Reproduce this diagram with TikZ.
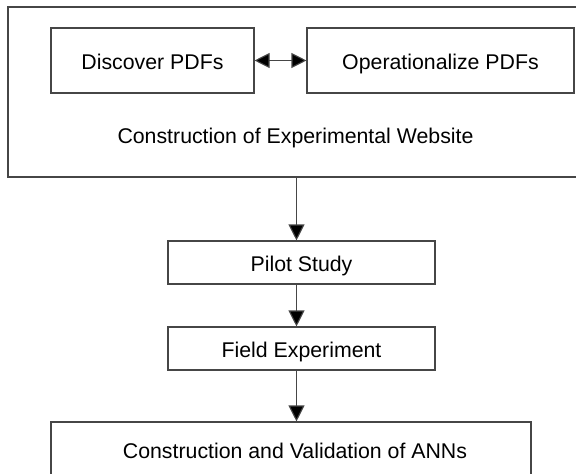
\documentclass[tikz,border=0pt]{standalone}
\usepackage{fontspec}
\setmainfont{Liberation Sans}
\usetikzlibrary{arrows.meta}
\definecolor{ln}{RGB}{70,70,70}
\tikzset{
  txt/.style={font=\fontsize{21.3}{25}\selectfont, text=black, text height=18.5pt, text depth=0pt},
  box/.style={draw=ln, line width=1.1pt, inner sep=0pt, txt},
  arr/.style={draw=ln, line width=1.1pt, -{Triangle[length=16pt,width=16pt,fill=black]}},
  dbl/.style={draw=ln, line width=1.1pt, {Triangle[length=15pt,width=15pt,fill=black]}-{Triangle[length=15pt,width=15pt,fill=black]}},
  lbl/.style={txt, inner sep=0pt}
}
\begin{document}
\begin{tikzpicture}[x=1pt,y=-1pt]
\useasboundingbox (0,0) rectangle (576,474);
\fill[white] (0,0) rectangle (576,474);
\node[box, minimum width=574pt, minimum height=170pt] (outer) at (295,92) {};
\node[lbl] (web) at (295.5,134) {Construction of Experimental Website};
\node[box, minimum width=203pt, minimum height=65pt] (disc) at (152.5,60.5) {Discover PDFs};
\node[box, minimum width=267pt, minimum height=65pt] (oper) at (440.5,60.5) {Operationalize PDFs};
\node[box, minimum width=267pt, minimum height=43pt] (pilot) at (301.5,262.5) {Pilot Study};
\node[box, minimum width=267pt, minimum height=43pt] (field) at (301.5,348.5) {Field Experiment};
\node[box, minimum width=480pt, minimum height=70pt] (ann) at (291,457) {};
\node[lbl] (anntext) at (295,449.5) {Construction and Validation of ANNs};
\coordinate (ax) at (296.5,0);
\draw[dbl] (disc.east) -- (oper.west);
\draw[arr] (ax |- outer.south) -- (ax |- pilot.north);
\draw[arr] (ax |- pilot.south) -- (ax |- field.north);
\draw[arr] (ax |- field.south) -- (ax |- ann.north);
\end{tikzpicture}
\end{document}
